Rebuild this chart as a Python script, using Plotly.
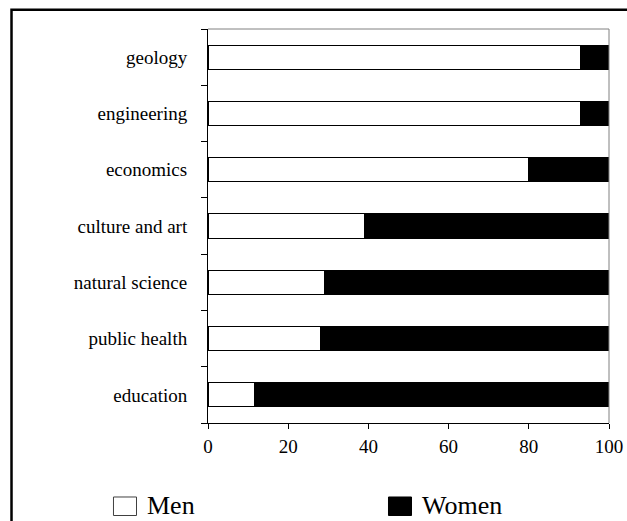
import plotly.graph_objects as go

# bottom-up order on the category axis
fields = ["education", "public health", "natural science", "culture and art",
          "economics", "engineering", "geology"]
men = [11.5, 28, 29, 39, 80, 93, 93]
women = [88.5, 72, 71, 61, 20, 7, 7]
x_ticks = [0, 20, 40, 60, 80, 100]

FONT = "Liberation Serif"

fig = go.Figure()
fig.add_trace(go.Bar(y=fields, x=men, orientation="h", name="Men",
                     marker=dict(color="white", line=dict(color="black", width=1))))
fig.add_trace(go.Bar(y=fields, x=women, orientation="h", name="Women",
                     marker=dict(color="black", line=dict(color="black", width=1))))


def key(x0, fill):
    # legend swatch, paper coords
    return dict(type="rect", xref="paper", yref="paper", x0=x0, x1=x0 + 0.0574,
                y0=-0.2348, y1=-0.1878, fillcolor=fill,
                line=dict(color="#404040" if fill == "white" else "black", width=1))


def label(x, text):
    return dict(text=text, x=x, y=-0.21, xref="paper", yref="paper",
                xanchor="left", yanchor="middle", showarrow=False,
                font=dict(family=FONT, size=26, color="black"))


fig.update_layout(
    width=627, height=521,
    margin=dict(l=208, r=18, t=29, b=98, autoexpand=False),
    barmode="stack", bargap=0.57, showlegend=False,
    paper_bgcolor="white", plot_bgcolor="white",
    font=dict(family=FONT, size=19, color="black"),
    xaxis=dict(range=[0, 100], tickvals=x_ticks, showgrid=False, zeroline=False,
               showline=True, linecolor="black", linewidth=1, automargin=False,
               ticks="outside", ticklen=5, tickcolor="black",
               ticklabelstandoff=1, fixedrange=True),
    yaxis=dict(categoryorder="array", categoryarray=fields, showgrid=False,
               showline=True, linecolor="black", linewidth=1, automargin=False,
               ticks="outside", ticklen=6, tickcolor="black", tickson="boundaries",
               ticklabelstandoff=16, fixedrange=True),
    shapes=[
        # grey top and right edges of the plot area
        dict(type="line", xref="paper", yref="paper", x0=0, x1=1, y0=1, y1=1,
             line=dict(color="#808080", width=1)),
        dict(type="line", xref="paper", yref="paper", x0=1, x1=1, y0=0, y1=1,
             line=dict(color="#808080", width=1)),
        # outer frame, runs off the right and bottom of the picture
        dict(type="rect", xref="paper", yref="paper", x0=-0.49, x1=1.2,
             y0=-0.4, y1=1.049, line=dict(color="black", width=2.5)),
        key(-0.2357, "white"),
        key(0.4501, "black"),
    ],
    annotations=[label(-0.158, "Men"), label(0.528, "Women")],
)

# drop the default page margin so the figure fills the window exactly
fig.write_html("out.html", config={"displayModeBar": False},
               post_script="document.body.style.margin='0';"
                           "document.body.style.overflow='hidden';")
